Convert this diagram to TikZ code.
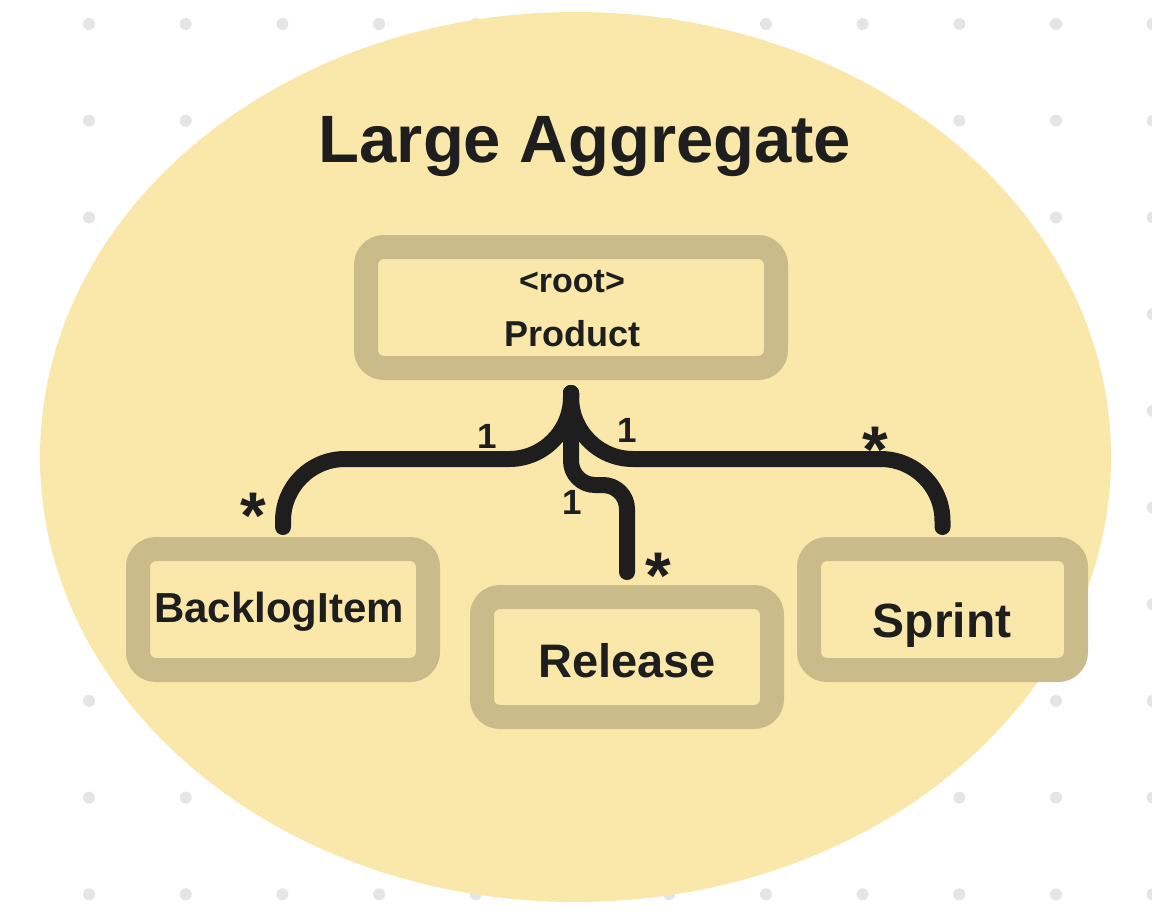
\documentclass[tikz,border=0pt]{standalone}
\usepackage{fontspec}
\setmainfont{Liberation Sans}
\definecolor{ell}{RGB}{250,231,170}
\definecolor{boxline}{RGB}{201,187,138}
\definecolor{ink}{RGB}{30,30,30}
\definecolor{dotc}{RGB}{229,229,229}
\begin{document}
\begin{tikzpicture}[x=1pt,y=-1pt,
  box/.style={draw=boxline, fill=ell, line width=24pt, rounded corners=18pt,
    minimum width=#1, minimum height=121pt, inner sep=0pt},
  conn/.style={draw=ink, line width=16pt, line cap=round, line join=round},
  txt/.style={text=ink, inner sep=0pt, anchor=base, font=\bfseries\fontsize{#1}{#1}\selectfont},
  one/.style={text=ink, inner sep=0pt, anchor=south, font=\bfseries\fontsize{35}{35}\selectfont},
  star/.style={text=ink, inner sep=0pt, anchor=north, font=\bfseries\fontsize{66}{66}\selectfont}
]
\useasboundingbox (0,0) rectangle (1152,922);
\fill[white] (0,0) rectangle (1152,922);
% dot grid
\foreach \i in {0,...,11}{
  \foreach \j in {0,...,9}{
    \fill[dotc] ({89+96.7*\i},{24+96.7*\j}) circle[radius=6pt];
  }
}
% aggregate ellipse
\fill[ell] (575.5,457) ellipse[x radius=535.5pt, y radius=445pt];
\node[txt=67] (title) at (585,162) {Large Aggregate};

% boxes
\node[box=410pt] (prod) at (571,307.5) {};
\node[txt=34] (prodtag) at (572,292) {<root>};
\node[txt=36] (prodname) at (572,346) {Product};
\node[box=290pt] (bli) at (283,609.5) {};
\node[txt=42] (blitext) at (279,622) {BacklogItem};
\node[box=290pt, minimum height=120pt] (rel) at (627,657) {};
\node[txt=47] (reltext) at (627,677) {Release};
\node[box=267pt] (spr) at (942.5,609.5) {};
\node[txt=48] (sprtext) at (942,637) {Sprint};

% connector ends
\coordinate (hub) at ([yshift=-13pt]prod.south);
\coordinate (blend) at ([yshift=10pt]bli.north);
\coordinate (sprend) at ([yshift=10pt]spr.north);
\coordinate (relend) at ([yshift=13pt]rel.north);
\coordinate (bar) at (0,459);
\coordinate (jog) at (0,485);

\draw[conn, rounded corners=62pt] (hub) -- (hub |- bar) -- (blend |- bar) -- (blend);
\draw[conn, rounded corners=62pt] (hub) -- (hub |- bar) -- (sprend |- bar) -- (sprend);
\draw[conn, rounded corners=24pt] (hub) -- (hub |- jog) -- (relend |- jog) -- (relend);

% multiplicities
\node[one] (m1) at (487,449) {1};
\node[one] (m2) at (627,443) {1};
\node[one] (m3) at (572,515) {1};
\node[star] (s1) at (253,493) {*};
\node[star] (s2) at (875,427) {*};
\node[star] (s3) at (658,553) {*};
\end{tikzpicture}
\end{document}
